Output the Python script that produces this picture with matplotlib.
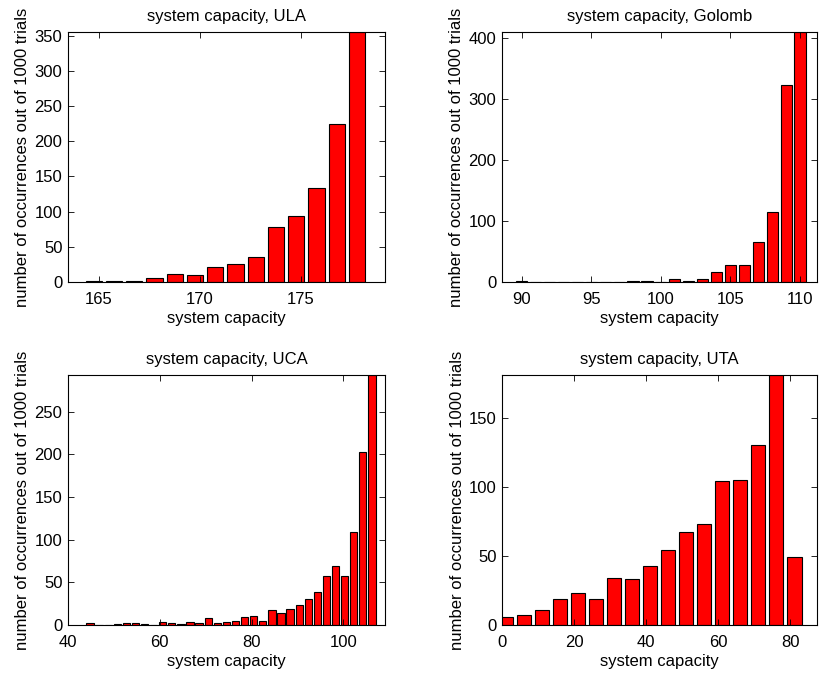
import numpy as np
import matplotlib
matplotlib.use('Agg')
import matplotlib.pyplot as plt

plt.rcParams['font.family'] = ['Liberation Sans', 'DejaVu Sans']
plt.rcParams['font.size'] = 12

# histogram bin centres and counts (1000 trials per array geometry)
ula_centers = [164.76, 165.76, 166.76, 167.76, 168.76, 169.76, 170.76,
               171.76, 172.76, 173.76, 174.76, 175.76, 176.76, 177.76]
ula_counts = [1, 1, 2, 5, 11, 10, 21, 25, 35, 78, 94, 133, 224, 355]

golomb_centers = list(range(90, 111))
golomb_counts = [1, 0, 0, 0, 0, 0, 0, 0, 2, 1, 0, 5, 2, 5, 16, 27, 28,
                 65, 114, 322, 409]

uca_lo, uca_hi, uca_nbins = 44.8, 106.2, 32
uca_counts = [2, 0, 0, 1, 2, 2, 1, 0, 3, 2, 1, 3, 2, 8, 2, 3, 5, 9, 10,
              5, 18, 14, 19, 24, 30, 39, 58, 69, 58, 109, 203, 293]

uta_lo, uta_hi, uta_nbins = 1.1, 81.1, 17
uta_counts = [6, 7, 11, 19, 23, 19, 34, 33, 43, 54, 67, 73, 104, 105,
              130, 181, 49]

uca_centers = np.linspace(uca_lo, uca_hi, uca_nbins)
uta_centers = np.linspace(uta_lo, uta_hi, uta_nbins)

panels = [
    ('ULA', ula_centers, ula_counts, (163.48, 179.15), [165, 170, 175],
     [0, 50, 100, 150, 200, 250, 300, 350]),
    ('Golomb', golomb_centers, golomb_counts, (88.58, 111.22),
     [90, 95, 100, 105, 110], [0, 100, 200, 300, 400]),
    ('UCA', uca_centers, uca_counts, (40, 109.06), [40, 60, 80, 100],
     [0, 50, 100, 150, 200, 250]),
    ('UTA', uta_centers, uta_counts, (0, 87.4), [0, 20, 40, 60, 80],
     [0, 50, 100, 150]),
]

W, H = 819, 673
fig = plt.figure(figsize=(W / 100, H / 100), dpi=100)

# axes boxes in pixels: left, top, width, height
boxes = [(68, 32, 317, 250), (502, 32, 315, 250),
         (68, 375, 317, 250), (502, 375, 315, 250)]

for (name, centers, counts, xlim, xticks, yticks), (l, t, w, h) in zip(panels, boxes):
    ax = fig.add_axes([l / W, 1 - (t + h) / H, w / W, h / H])
    centers = np.asarray(centers, dtype=float)
    step = np.median(np.diff(centers))
    ax.bar(centers, counts, width=0.8 * step, color='#ff0000',
           edgecolor='black', linewidth=0.8)
    ax.set_xlim(*xlim)
    ax.set_ylim(0, max(counts))
    ax.set_xticks(xticks)
    ax.set_yticks(yticks)
    ax.tick_params(direction='in', top=True, right=True, length=4,
                   width=0.6, labelsize=12, pad=4)
    ax.tick_params(axis='x', pad=7)
    for sp in ax.spines.values():
        sp.set_linewidth(0.8)
    ax.set_title(f'system capacity, {name}', fontsize=12, pad=8)
    ax.set_xlabel('system capacity', fontsize=12, labelpad=3)
    ax.set_ylabel('number of occurrences out of 1000 trials', fontsize=12,
                  labelpad=3)

fig.savefig('out.png', dpi=100)
